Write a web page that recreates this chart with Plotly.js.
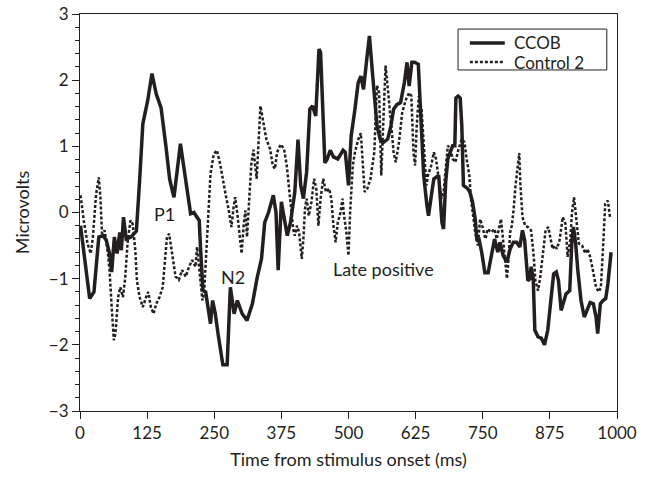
<!DOCTYPE html>
<html>
<head>
<meta charset="utf-8">
<script src="https://cdn.plot.ly/plotly-3.0.1.min.js"></script>
<style>html,body{margin:0;padding:0;background:#fff;}#chart{width:648px;height:477px;}</style>
</head>
<body>
<div id="chart"></div>
<script>
// CCOB (solid)
const ccobTime = [1,10,18,26,35,43,49,55,59,64,69,74,77,81,86,95,105,111,117,126,134,142,151,160,167,175,187,197,206,212,222,225,229,234,240,243,247,252,257,262,266,274,280,287,293,302,311,321,330,338,344,351,360,365,369,375,381,386,392,400,406,411,416,422,428,433,439,445,448,456,460,466,472,480,490,494,500,505,512,518,523,528,534,539,543,548,553,559,565,573,579,584,590,597,604,609,613,618,623,630,635,640,646,649,655,659,668,674,677,681,685,690,694,698,700,704,708,711,714,722,726,731,736,739,743,748,754,760,767,772,778,782,788,795,801,807,813,819,824,828,834,838,840,844,847,853,859,865,871,877,882,887,891,896,900,905,912,916,919,923,927,933,939,944,950,956,961,964,969,974,979,983,989];
const ccobUv = [-0.2,-0.8,-1.3,-1.2,-0.37,-0.35,-0.42,-0.62,-0.9,-0.37,-0.62,-0.30,-0.57,-0.07,-0.40,-0.37,-0.28,0.48,1.34,1.69,2.1,1.79,1.58,1.0,0.5,0.23,1.04,0.48,-0.02,0.0,-0.12,-0.62,-1.18,-1.2,-1.48,-1.68,-1.33,-1.53,-1.83,-2.13,-2.3,-2.3,-1.13,-1.53,-1.33,-1.53,-1.63,-1.38,-0.98,-0.70,-0.15,0.0,0.26,0.0,-0.87,0.16,-0.15,-0.35,-0.15,0.31,1.10,0.41,0.21,0.61,1.56,1.61,1.46,2.47,2.42,0.75,0.80,0.94,0.84,0.81,0.94,0.91,0.41,1.16,1.56,1.96,2.06,1.86,2.32,2.67,2.27,1.72,1.31,1.11,1.06,1.11,1.31,1.56,1.63,1.66,1.96,2.27,1.91,2.27,2.27,2.24,1.31,0.56,0.11,-0.05,0.3,0.51,0.56,-0.15,-0.25,0.46,0.81,0.91,1.01,1.01,1.73,1.76,1.73,1.31,0.41,0.36,0.31,0.16,-0.1,-0.40,-0.40,-0.6,-0.91,-0.91,-0.6,-0.4,-0.6,-0.45,-0.65,-0.75,-0.55,-0.45,-0.45,-0.52,-0.27,-0.42,-1.03,-1.0,-0.82,-1.0,-1.78,-1.88,-1.9,-2.0,-1.78,-1.28,-0.93,-0.9,-1.03,-1.48,-1.38,-1.23,-1.18,-0.42,-0.22,-0.47,-0.87,-1.33,-1.58,-1.48,-1.36,-1.38,-1.58,-1.83,-1.38,-1.33,-1.3,-1.08,-0.6];

// Control 2 (dotted)
const ctrlTime = [1,7,14,20,24,30,35,38,41,46,52,55,59,63,66,71,75,80,84,89,94,98,103,106,111,117,123,127,132,137,142,148,154,158,162,166,172,178,184,190,197,203,209,215,218,225,228,231,234,239,243,249,255,261,266,271,277,282,286,289,293,297,301,305,308,311,314,319,323,329,336,341,347,354,359,363,367,374,380,385,390,394,397,400,404,408,413,416,419,422,426,431,436,440,444,448,453,458,464,468,472,476,480,485,489,491,496,500,503,508,512,518,523,530,535,541,548,553,557,561,565,569,574,579,584,588,594,600,607,613,617,621,624,627,631,636,641,645,648,654,659,663,668,673,677,682,685,690,694,699,705,711,716,720,725,728,733,736,741,745,749,755,759,766,772,776,784,790,795,798,801,804,807,811,818,820,824,829,834,840,845,848,853,857,862,867,872,876,880,884,888,893,899,904,908,913,916,920,924,929,935,941,945,950,955,961,966,970,975,978,983,987];
const ctrlUv = [0.26,-0.12,-0.47,-0.62,-0.37,0.28,0.53,0.23,-0.32,-0.27,-0.62,-0.87,-1.43,-1.93,-1.83,-1.28,-1.13,-1.28,-1.0,-0.42,-0.12,-0.17,-0.57,-1.03,-1.28,-1.43,-1.28,-1.2,-1.43,-1.53,-1.38,-1.28,-1.13,-0.72,-0.37,-0.32,-0.62,-0.97,-1.02,-0.87,-0.97,-0.82,-0.72,-0.82,-0.52,-1.02,-1.33,-1.23,-0.77,-0.02,0.58,0.88,0.94,0.73,0.53,0.28,0.03,-0.22,0.08,0.23,-0.02,-0.37,-0.62,-0.17,0.03,-0.37,0.0,0.73,0.95,0.51,1.61,1.36,1.11,0.96,0.71,0.66,0.91,1.03,0.96,0.71,0.26,-0.1,-0.25,-0.35,-0.2,-0.3,-0.70,-0.4,0.06,0.21,-0.05,0.16,0.51,0.36,-0.2,0.21,0.51,0.31,0.36,0.21,-0.2,-0.45,-0.15,0.0,0.21,0.0,-0.3,-0.65,0.0,0.71,0.91,1.1,1.2,0.31,0.36,0.51,0.91,1.92,1.81,0.56,1.31,2.22,1.81,1.31,0.91,0.76,1.06,1.51,1.71,1.81,1.76,0.91,0.71,1.31,1.76,1.56,0.81,0.41,0.56,0.71,0.91,0.81,0.51,0.21,0.31,0.81,1.01,0.96,0.81,0.76,0.96,1.11,1.06,0.81,0.56,0.21,-0.1,-0.3,-0.5,-0.1,-0.2,-0.4,-0.25,-0.3,-0.25,-0.4,-0.1,-0.6,-1.0,-0.7,-0.3,-0.2,0.0,0.41,0.9,0.44,-0.07,-0.2,-0.22,-0.27,-0.67,-1.03,-1.18,-0.98,-0.57,-0.27,-0.22,-0.37,-0.55,-0.5,-0.55,-0.42,-0.07,-0.17,-0.67,-0.42,-0.02,0.23,-0.07,-0.47,-0.5,-0.62,-0.55,-0.67,-0.87,-1.13,-1.2,-1.13,-0.37,0.13,0.18,-0.07];

const xTicks = [0,125,250,375,500,625,750,875,1000];
const yTicks = [-3,-2,-1,0,1,2,3];
const seriesNames = ['CCOB', 'Control 2'];

const labels = [
  {text: 'P1', x: 158, y: -0.03},
  {text: 'N2', x: 284, y: -0.97},
  {text: 'Late positive', x: 566, y: -0.86}
];

const ink = '#231f20';
const fontFam = 'Lato, "Open Sans", sans-serif';
const solidLine = {color: ink, width: 3.5};
const dotLine = {color: ink, width: 2.5, dash: '3px,2px'};

const traces = [
  {x: ccobTime, y: ccobUv, name: seriesNames[0], type: 'scatter', mode: 'lines',
   line: solidLine, showlegend: false},
  {x: ctrlTime, y: ctrlUv, name: seriesNames[1], type: 'scatter', mode: 'lines',
   line: dotLine, showlegend: false}
];

// legend drawn in paper coordinates
const legBox = {x0: 0.704, x1: 0.981, y0: 0.859, y1: 0.962};
const legRows = [0.927, 0.879];
const shapes = [
  {type: 'rect', xref: 'paper', yref: 'paper', x0: legBox.x0, x1: legBox.x1, y0: legBox.y0, y1: legBox.y1,
   line: {color: ink, width: 1}, fillcolor: '#fff', layer: 'above'},
  {type: 'line', xref: 'paper', yref: 'paper', x0: 0.726, x1: 0.791, y0: legRows[0], y1: legRows[0],
   line: solidLine, layer: 'above'},
  {type: 'line', xref: 'paper', yref: 'paper', x0: 0.726, x1: 0.791, y0: legRows[1], y1: legRows[1],
   line: dotLine, layer: 'above'}
];

const annotations = labels.map(l => ({x: l.x, y: l.y, xref: 'x', yref: 'y', text: l.text,
    showarrow: false, font: {size: 18, color: ink}}));
seriesNames.forEach((n, i) => annotations.push({xref: 'paper', yref: 'paper', x: 0.804, y: legRows[i],
    xanchor: 'left', yanchor: 'middle', text: n, showarrow: false, font: {size: 17, color: ink}}));

const layout = {
  width: 648, height: 477,
  margin: {l: 80, r: 31, t: 14, b: 66},
  paper_bgcolor: '#fff', plot_bgcolor: '#fff',
  font: {family: fontFam, size: 17, color: ink},
  showlegend: false,
  xaxis: {
    range: [0, 1000], tickvals: xTicks, ticktext: xTicks.map(String),
    ticks: 'outside', ticklen: 7, tickwidth: 1, tickcolor: ink,
    showline: true, linecolor: ink, linewidth: 1, mirror: true,
    showgrid: false, zeroline: false,
    tickfont: {size: 17},
    title: {text: 'Time from stimulus onset (ms)', font: {size: 18}, standoff: 10}
  },
  yaxis: {
    range: [-3, 3], tickvals: yTicks,
    ticks: 'outside', ticklen: 7, tickwidth: 1, tickcolor: ink,
    minor: {dtick: 0.2, ticks: 'outside', ticklen: 4, tickwidth: 1, tickcolor: ink, showgrid: false},
    showline: true, linecolor: ink, linewidth: 1, mirror: true,
    showgrid: false, zeroline: false,
    tickfont: {size: 17},
    title: {text: 'Microvolts', font: {size: 18}, standoff: 14}
  },
  shapes: shapes,
  annotations: annotations
};

Plotly.newPlot('chart', traces, layout, {displayModeBar: false, staticPlot: true});
</script>
</body>
</html>
